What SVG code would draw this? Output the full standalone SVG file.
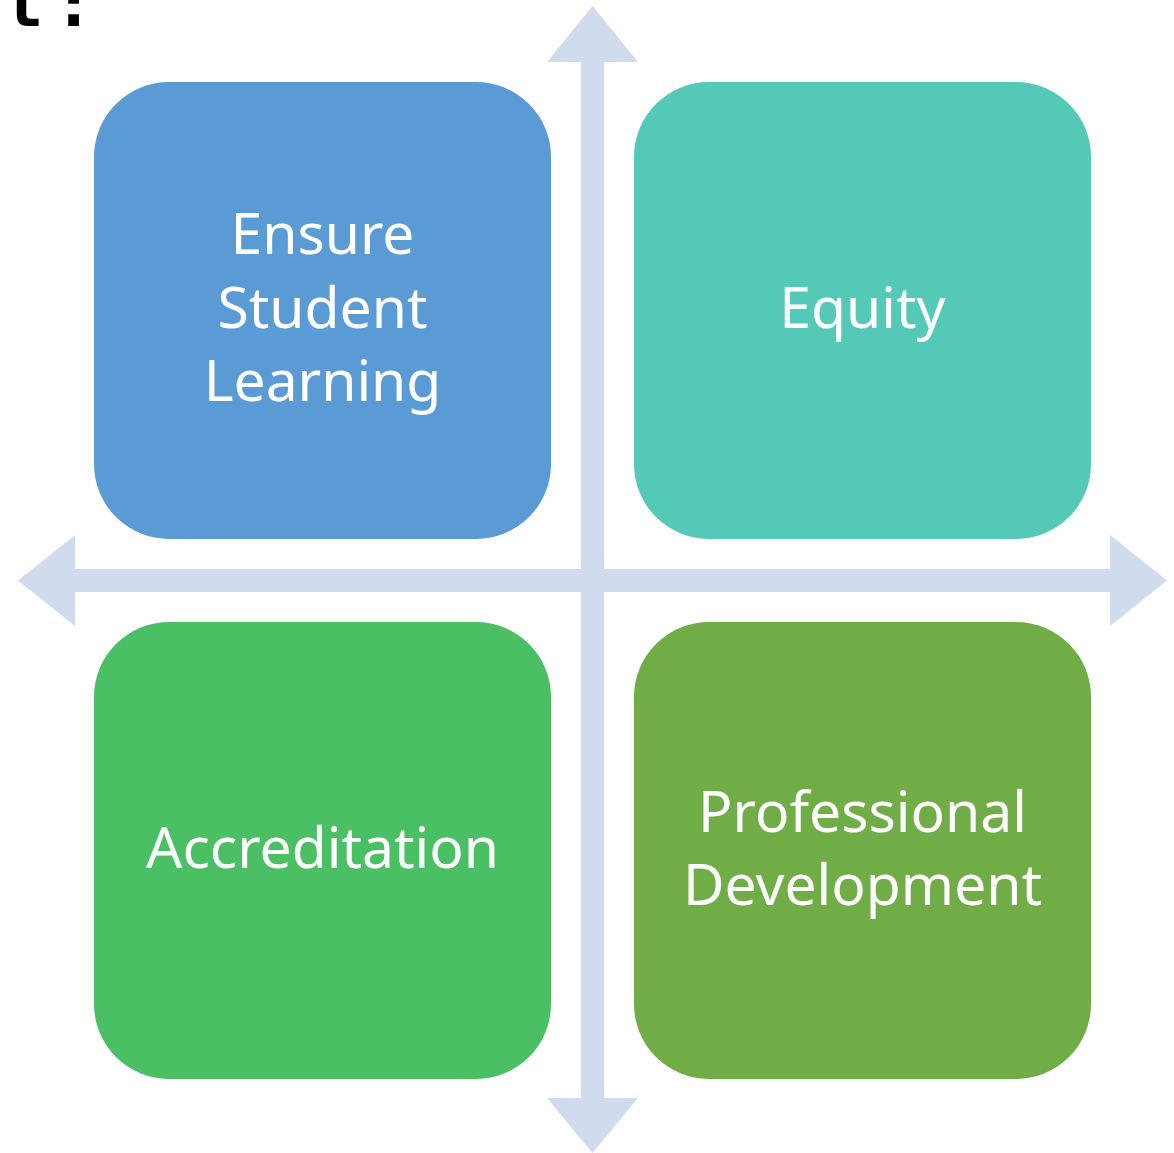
<svg xmlns="http://www.w3.org/2000/svg" width="1174" height="1153" viewBox="0 0 1174 1153">
  <style>
    .lbl { font-family: "Noto Sans", "Open Sans", sans-serif; font-size: 57px; fill: #FFFFFF; text-anchor: middle; }
    .arrow { fill: #D0DCEE; }
    .corner { font-family: "DejaVu Sans Mono", "Liberation Mono", monospace; font-size: 66px; font-weight: bold; fill: #000000; }
  </style>
  <rect x="0" y="0" width="1174" height="1153" fill="#FFFFFF"/>
  <text class="corner" x="4" y="26" letter-spacing="10">t:</text>
  <g id="connectors">
    <polygon class="arrow" points="592.5,6 638,62 604,62 604,1098 638,1098 592.5,1153 547,1098 581,1098 581,62 547,62"/>
    <polygon class="arrow" points="18,580.5 75,535 75,569 1110,569 1110,535 1167,580.5 1110,626 1110,592 75,592 75,626"/>
  </g>
  <g id="node-ensure">
    <rect x="94" y="82" width="457" height="457" rx="75" ry="75" fill="#5B9BD5"/>
    <text class="lbl" x="322.5" y="254">Ensure</text>
    <text class="lbl" x="322.5" y="328">Student</text>
    <text class="lbl" x="322.5" y="401">Learning</text>
  </g>
  <g id="node-equity">
    <rect x="634" y="82" width="457" height="457" rx="75" ry="75" fill="#54C9B7"/>
    <text class="lbl" x="862.5" y="328">Equity</text>
  </g>
  <g id="node-accreditation">
    <rect x="94" y="622" width="457" height="457" rx="75" ry="75" fill="#4BBF63"/>
    <text class="lbl" x="322.5" y="868">Accreditation</text>
  </g>
  <g id="node-professional">
    <rect x="634" y="622" width="457" height="457" rx="75" ry="75" fill="#70AD47"/>
    <text class="lbl" x="862.5" y="832">Professional</text>
    <text class="lbl" x="862.5" y="905">Development</text>
  </g>
</svg>
